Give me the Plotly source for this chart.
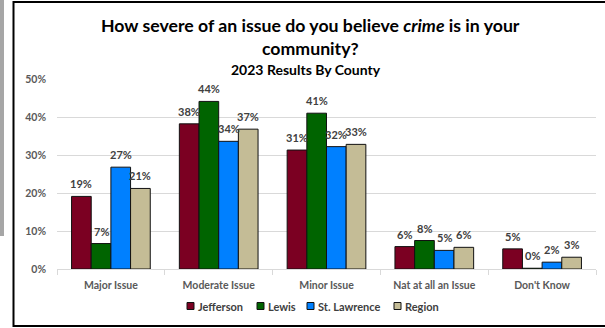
import plotly.graph_objects as go

categories = ["Major Issue", "Moderate Issue", "Minor Issue", "Nat at all an Issue", "Don't Know"]
series_names = ["Jefferson", "Lewis", "St. Lawrence", "Region"]
jefferson = [19.1, 38.2, 31.3, 5.9, 5.3]
lewis = [6.7, 44.1, 41.0, 7.5, 0.2]
st_lawrence = [26.8, 33.6, 32.2, 4.9, 1.8]
region = [21.2, 36.8, 32.8, 5.7, 3.1]
series_values = [jefferson, lewis, st_lawrence, region]
colors = ["#7B0022", "#006400", "#0080FF", "#C4BC96"]
y_ticks = [0, 10, 20, 30, 40, 50]
y_tick_labels = ["0%", "10%", "20%", "30%", "40%", "50%"]

W, H = 605, 328
L, R, T, B = 57, 596, 79, 269  # plot area pixels
FONT = "Lato"
BARGAP = 0.27


def px_x(x):
    return (x - L) / (R - L)


def px_y(y):
    return (B - y) / (B - T)


fig = go.Figure()
for name, vals, col in zip(series_names, series_values, colors):
    fig.add_trace(go.Bar(
        name=name,
        x=categories,
        y=vals,
        marker=dict(color=col, line=dict(color="#111111", width=1)),
        showlegend=False,
        hoverinfo="skip",
    ))

# data labels above bars (placed on the data coordinates, shifted to each bar's slot)
cat_px = (R - L) / len(categories)
bar_px = cat_px * (1 - BARGAP) / len(series_names)
annotations = []
for i, vals in enumerate(series_values):
    for c, v in zip(categories, vals):
        annotations.append(dict(
            x=c, y=v, xref="x", yref="y", text=f"{round(v)}%", showarrow=False,
            xanchor="center", yanchor="bottom", xshift=(i - 1.5) * bar_px, yshift=4,
            font=dict(family=FONT, size=11, color="#404040", weight="bold")))

# custom legend (small squares like the original)
legend_sq_x = [187, 257, 307, 394]
legend_y = 306
shapes = [
    dict(type="rect", xref="paper", yref="paper",
         x0=px_x(13.5), x1=px_x(612), y0=px_y(326), y1=px_y(2),
         line=dict(color="#000000", width=2), fillcolor="rgba(0,0,0,0)", layer="below"),
    dict(type="rect", xref="paper", yref="paper",
         x0=px_x(-2), x1=px_x(4), y0=px_y(236), y1=px_y(-2),
         line=dict(width=0), fillcolor="#A6A6A6", layer="below"),
]
for name, col, sx in zip(series_names, colors, legend_sq_x):
    shapes.append(dict(type="rect", xref="paper", yref="paper",
                       x0=px_x(sx), x1=px_x(sx + 7), y0=px_y(legend_y + 3.5), y1=px_y(legend_y - 3.5),
                       line=dict(color="#111111", width=1), fillcolor=col))
    annotations.append(dict(text=name, xref="paper", yref="paper", x=px_x(sx + 8.5), y=px_y(legend_y),
                            xanchor="left", yanchor="middle", showarrow=False,
                            font=dict(family=FONT, size=11, color="#404040", weight="bold")))

annotations += [
    dict(text="How severe of an issue do you believe <i>crime</i> is in your",
         xref="paper", yref="paper", x=px_x(310), y=px_y(25), showarrow=False,
         xanchor="center", yanchor="middle",
         font=dict(family=FONT, size=17.7, color="#000000", weight="bold")),
    dict(text="community?",
         xref="paper", yref="paper", x=px_x(310), y=px_y(49), showarrow=False,
         xanchor="center", yanchor="middle",
         font=dict(family=FONT, size=17.7, color="#000000", weight="bold")),
    dict(text="2023 Results By County",
         xref="paper", yref="paper", x=px_x(306), y=px_y(69), showarrow=False,
         xanchor="center", yanchor="middle",
         font=dict(family=FONT, size=14, color="#000000", weight="bold")),
]

fig.update_layout(
    width=W, height=H,
    margin=dict(l=L, r=W - R, t=T, b=H - B, pad=0),
    paper_bgcolor="white", plot_bgcolor="white",
    barmode="group", bargap=BARGAP, bargroupgap=0,
    shapes=shapes, annotations=annotations,
    showlegend=False,
    font=dict(family=FONT, color="#595959"),
)
fig.update_yaxes(range=[0, 50], tickvals=y_ticks, ticktext=y_tick_labels,
                 showgrid=True, gridcolor="#D9D9D9", gridwidth=1,
                 zeroline=False, showline=False, ticks="", ticklabelstandoff=10,
                 tickfont=dict(family=FONT, size=10.5, color="#595959", weight="bold"))
fig.update_xaxes(showline=True, linecolor="#D9D9D9", linewidth=1,
                 ticks="outside", tickson="boundaries", ticklen=5, tickcolor="#D9D9D9",
                 ticklabelstandoff=6,
                 tickfont=dict(family=FONT, size=10.5, color="#595959", weight="bold"))

fig.write_html("out.html", config={"displayModeBar": False},
               post_script="document.body.style.margin='0';")
